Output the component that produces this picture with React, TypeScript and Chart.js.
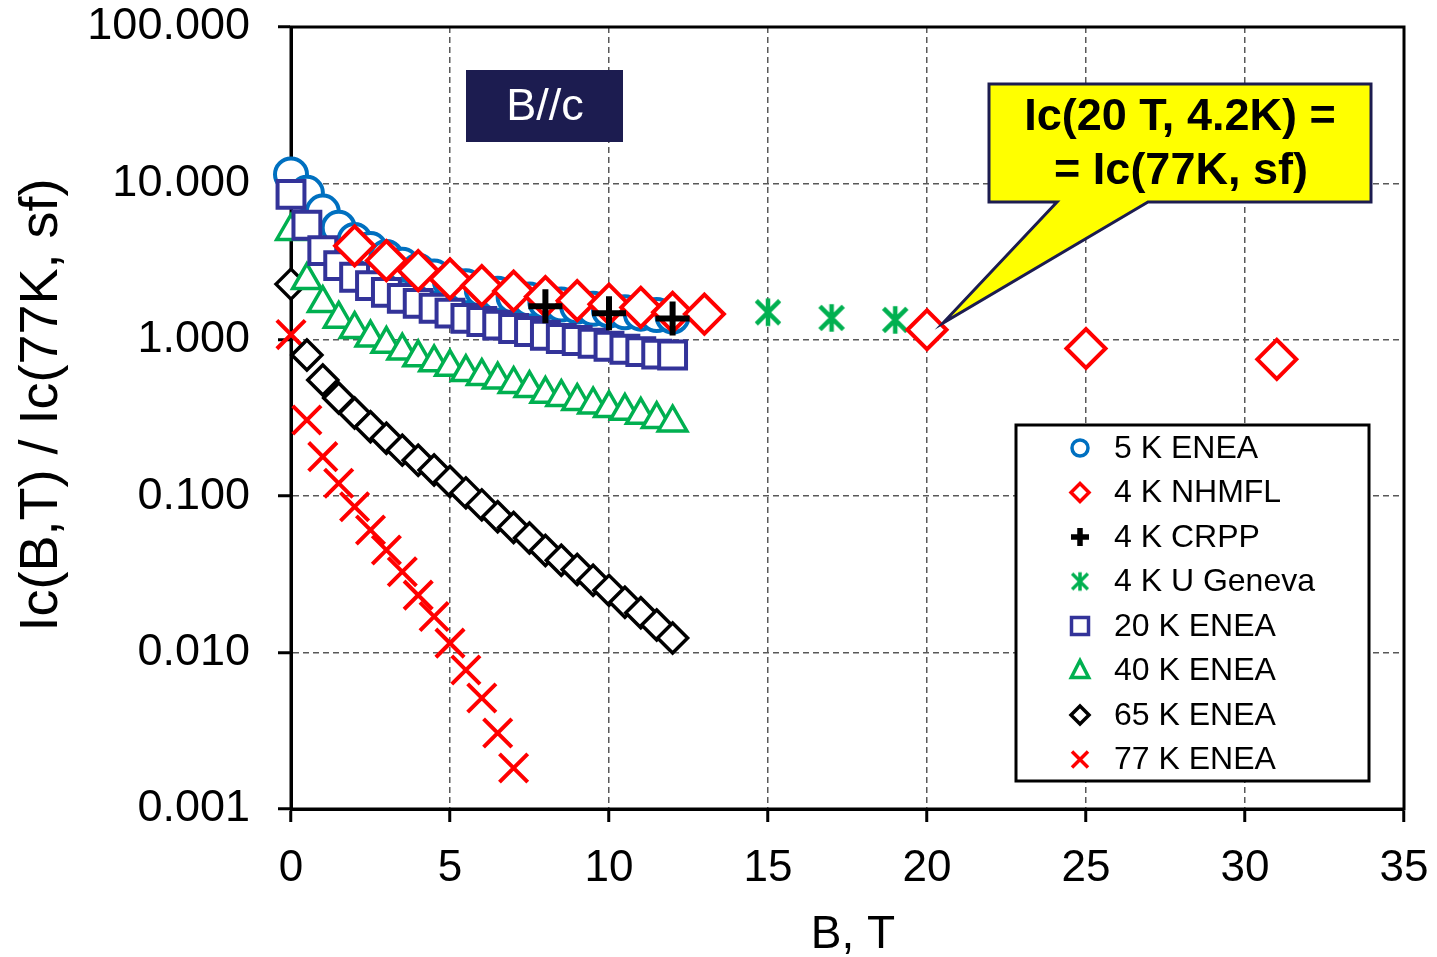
import React, { useEffect, useRef } from 'react';
import { Chart, registerables } from 'chart.js';

Chart.register(...registerables);

// ---- data ----
const eneaField = [0, 0.5, 1, 1.5, 2, 2.5, 3, 3.5, 4, 4.5, 5, 5.5, 6, 6.5, 7, 7.5, 8, 8.5, 9, 9.5, 10, 10.5, 11, 11.5, 12];
const enea5K = [11.4, 8.7, 6.6, 5.2, 4.35, 3.8, 3.38, 3.02, 2.76, 2.54, 2.36, 2.2, 2.08, 1.97, 1.88, 1.81, 1.74, 1.68, 1.63, 1.58, 1.54, 1.5, 1.47, 1.44, 1.41];
const enea20K = [8.5, 5.4, 3.72, 2.98, 2.51, 2.22, 2.01, 1.84, 1.71, 1.59, 1.48, 1.37, 1.31, 1.24, 1.18, 1.13, 1.07, 1.02, 0.99, 0.95, 0.91, 0.87, 0.84, 0.81, 0.8];
const enea40K = [4.95, 2.4, 1.71, 1.36, 1.17, 1.03, 0.94, 0.85, 0.77, 0.715, 0.67, 0.62, 0.585, 0.555, 0.52, 0.49, 0.45, 0.43, 0.405, 0.385, 0.365, 0.35, 0.33, 0.31, 0.295];
const enea65K = [2.27, 0.8, 0.553, 0.425, 0.34, 0.278, 0.235, 0.197, 0.17, 0.147, 0.124, 0.105, 0.088, 0.074, 0.063, 0.054, 0.045, 0.039, 0.034, 0.029, 0.025, 0.021, 0.018, 0.015, 0.0124];
const enea77KField = [0, 0.5, 1, 1.5, 2, 2.5, 3, 3.5, 4, 4.5, 5, 5.5, 6, 6.5, 7];
const enea77K = [1.08, 0.307, 0.179, 0.121, 0.0857, 0.0608, 0.0453, 0.0329, 0.0233, 0.017, 0.0115, 0.00774, 0.00513, 0.00306, 0.00183];
const nhmflField = [2, 3, 4, 5, 6, 7, 8, 9, 10, 11, 12, 13, 20, 25, 31];
const nhmfl4K = [3.99, 3.21, 2.77, 2.45, 2.22, 2.05, 1.89, 1.78, 1.69, 1.61, 1.5, 1.46, 1.16, 0.88, 0.75];
const crppField = [8, 10, 12];
const crpp4K = [1.64, 1.48, 1.37];
const genevaField = [15, 17, 19];
const geneva4K = [1.5, 1.38, 1.34];

const yTickValues = [0.001, 0.01, 0.1, 1, 10, 100];
const xTickStep = 5;

const legendLabels = ['5 K ENEA', '4 K NHMFL', '4 K CRPP', '4 K U Geneva', '20 K ENEA', '40 K ENEA', '65 K ENEA', '77 K ENEA'];
const xTitle = 'B, T';
const yTitle = 'Ic(B,T) / Ic(77K, sf)';
const tagText = 'B//c';
const calloutLines = ['Ic(20 T, 4.2K) =', '= Ic(77K, sf)'];

const BLUE = '#0070c0';
const RED = '#ff0000';
const GREEN = '#00b050';
const NAVY = '#333399';
const DARKNAVY = '#1c1c50';
const FONT = '"Liberation Sans", Arial, sans-serif';

const pts = (xs: number[], ys: number[]) => xs.map((x, i) => ({ x, y: ys[i] }));

function makeAsterisk(size: number, lw: number): HTMLCanvasElement {
  const c = document.createElement('canvas');
  c.width = size;
  c.height = size;
  const g = c.getContext('2d')!;
  g.strokeStyle = GREEN;
  g.lineWidth = lw;
  const m = size / 2;
  const r = size / 2 - lw / 2;
  const d = r * 0.85;
  g.beginPath();
  g.moveTo(m, m - r);
  g.lineTo(m, m + r);
  g.moveTo(m - d, m - d);
  g.lineTo(m + d, m + d);
  g.moveTo(m + d, m - d);
  g.lineTo(m - d, m + d);
  g.stroke();
  return c;
}

function drawLegendMarker(ctx: CanvasRenderingContext2D, i: number, x: number, y: number, star: HTMLCanvasElement) {
  ctx.save();
  ctx.lineWidth = 3.5;
  ctx.fillStyle = '#fff';
  ctx.beginPath();
  switch (i) {
    case 0:
      ctx.strokeStyle = BLUE;
      ctx.arc(x, y, 8, 0, Math.PI * 2);
      ctx.stroke();
      break;
    case 1:
      ctx.strokeStyle = RED;
      ctx.moveTo(x - 9, y); ctx.lineTo(x, y - 9); ctx.lineTo(x + 9, y); ctx.lineTo(x, y + 9); ctx.closePath();
      ctx.stroke();
      break;
    case 2:
      ctx.strokeStyle = '#000';
      ctx.lineWidth = 5.5;
      ctx.moveTo(x - 9, y); ctx.lineTo(x + 9, y); ctx.moveTo(x, y - 9); ctx.lineTo(x, y + 9);
      ctx.stroke();
      break;
    case 3:
      ctx.drawImage(star, x - star.width / 2, y - star.height / 2);
      break;
    case 4:
      ctx.strokeStyle = NAVY;
      ctx.rect(x - 8.5, y - 8.5, 17, 17);
      ctx.stroke();
      break;
    case 5:
      ctx.strokeStyle = GREEN;
      ctx.moveTo(x, y - 10); ctx.lineTo(x + 8.7, y + 7); ctx.lineTo(x - 8.7, y + 7); ctx.closePath();
      ctx.stroke();
      break;
    case 6:
      ctx.strokeStyle = '#000';
      ctx.moveTo(x - 9, y); ctx.lineTo(x, y - 9); ctx.lineTo(x + 9, y); ctx.lineTo(x, y + 9); ctx.closePath();
      ctx.stroke();
      break;
    case 7:
      ctx.strokeStyle = RED;
      ctx.moveTo(x - 8, y - 8); ctx.lineTo(x + 8, y + 8); ctx.moveTo(x + 8, y - 8); ctx.lineTo(x - 8, y + 8);
      ctx.stroke();
      break;
  }
  ctx.restore();
}

const zeroPad = (s: any) => {
  s.paddingTop = 0;
  s.paddingBottom = 0;
  s.paddingLeft = 0;
  s.paddingRight = 0;
};

export default function App() {
  const ref = useRef<HTMLCanvasElement | null>(null);

  useEffect(() => {
    document.body.style.margin = '0';
    const canvas = ref.current;
    if (!canvas) return;

    const bigStar = makeAsterisk(32, 4.5);
    const smallStar = makeAsterisk(22, 3.5);

    const overlay = {
      id: 'overlay',
      beforeDatasetsDraw(chart: any) {
        const { ctx, chartArea: a } = chart;
        ctx.save();
        ctx.strokeStyle = '#000';
        ctx.lineWidth = 3;
        ctx.strokeRect(a.left, a.top, a.right - a.left, a.bottom - a.top);
        ctx.restore();
      },
      afterDatasetsDraw(chart: any) {
        const ctx: CanvasRenderingContext2D = chart.ctx;
        ctx.save();
        // B//c tag
        ctx.fillStyle = DARKNAVY;
        ctx.fillRect(466, 70, 157, 72);
        ctx.fillStyle = '#fff';
        ctx.font = `45px ${FONT}`;
        ctx.textAlign = 'center';
        ctx.textBaseline = 'middle';
        ctx.fillText(tagText, 545, 108);

        // callout
        ctx.beginPath();
        ctx.moveTo(989, 84);
        ctx.lineTo(1371, 84);
        ctx.lineTo(1371, 202);
        ctx.lineTo(1148, 202);
        ctx.lineTo(943, 323);
        ctx.lineTo(1057, 202);
        ctx.lineTo(989, 202);
        ctx.closePath();
        ctx.fillStyle = '#ffff00';
        ctx.fill();
        ctx.strokeStyle = DARKNAVY;
        ctx.lineWidth = 3;
        ctx.lineJoin = 'miter';
        ctx.stroke();
        ctx.fillStyle = '#000';
        ctx.font = `bold 45px ${FONT}`;
        ctx.fillText(calloutLines[0], 1180, 118);
        ctx.fillText(calloutLines[1], 1181, 172);

        // legend
        ctx.fillStyle = '#fff';
        ctx.fillRect(1016, 425, 353, 356);
        ctx.strokeStyle = '#000';
        ctx.lineWidth = 3;
        ctx.strokeRect(1016, 425, 353, 356);
        ctx.font = `32px ${FONT}`;
        ctx.textAlign = 'left';
        legendLabels.forEach((lab, i) => {
          const y = 448 + i * 44.5;
          drawLegendMarker(ctx, i, 1080, y, smallStar);
          ctx.fillStyle = '#000';
          ctx.fillText(lab, 1114, y + 1);
        });
        ctx.restore();
      },
      afterDraw(chart: any) {
        const ctx: CanvasRenderingContext2D = chart.ctx;
        ctx.save();
        ctx.fillStyle = '#000';
        ctx.textAlign = 'center';
        ctx.textBaseline = 'middle';
        ctx.font = `46px ${FONT}`;
        ctx.fillText(xTitle, 853, 935);
        ctx.translate(42, 405);
        ctx.rotate(-Math.PI / 2);
        ctx.font = `54px ${FONT}`;
        ctx.fillText(yTitle, 0, 0);
        ctx.restore();
      },
    };

    const chart = new Chart(canvas, {
      type: 'scatter',
      data: {
        datasets: [
          {
            label: legendLabels[0], data: pts(eneaField, enea5K), order: 3,
            pointStyle: 'circle', pointRadius: 16, borderColor: BLUE, backgroundColor: '#fff', borderWidth: 4,
          },
          {
            label: legendLabels[1], data: pts(nhmflField, nhmfl4K), order: 1,
            pointStyle: 'rectRot', pointRadius: 19.5, borderColor: RED, backgroundColor: '#fff', borderWidth: 4,
          },
          {
            label: legendLabels[2], data: pts(crppField, crpp4K), order: 0,
            pointStyle: 'cross', pointRadius: 17, borderColor: '#000', backgroundColor: '#000', borderWidth: 6,
          },
          {
            label: legendLabels[3], data: pts(genevaField, geneva4K), order: 1,
            pointStyle: bigStar as any, pointRadius: 16, borderColor: GREEN, backgroundColor: GREEN,
          },
          {
            label: legendLabels[4], data: pts(eneaField, enea20K), order: 2,
            pointStyle: 'rect', pointRadius: 19, borderColor: NAVY, backgroundColor: '#fff', borderWidth: 4,
          },
          {
            label: legendLabels[5], data: pts(eneaField, enea40K), order: 4,
            pointStyle: 'triangle', pointRadius: 16.5, borderColor: GREEN, backgroundColor: '#fff', borderWidth: 3.5,
          },
          {
            label: legendLabels[6], data: pts(eneaField, enea65K), order: 5,
            pointStyle: 'rectRot', pointRadius: 15, borderColor: '#000', backgroundColor: '#fff', borderWidth: 3.5,
          },
          {
            label: legendLabels[7], data: pts(enea77KField, enea77K), order: 6,
            pointStyle: 'crossRot', pointRadius: 20, borderColor: RED, backgroundColor: RED, borderWidth: 4,
          },
        ] as any,
      },
      options: {
        animation: false,
        responsive: false,
        devicePixelRatio: 1,
        events: [],
        clip: false as any,
        layout: { padding: { top: 27, right: 33, left: 0, bottom: 0 } },
        plugins: { legend: { display: false }, tooltip: { enabled: false } },
        scales: {
          x: {
            type: 'linear',
            min: 0,
            max: 35,
            afterFit: (s: any) => { s.height = 148; zeroPad(s); },
            ticks: { stepSize: xTickStep, color: '#000', font: { family: FONT, size: 44 }, padding: 20, maxRotation: 0 },
            grid: { color: '#595959', lineWidth: 1.5, tickColor: '#000', tickWidth: 3, tickLength: 13 },
            border: { display: true, color: '#000', width: 3, dash: [6, 4] },
          },
          y: {
            type: 'logarithmic',
            min: 0.001,
            max: 100,
            afterFit: (s: any) => { s.width = 291; zeroPad(s); },
            afterBuildTicks: (s: any) => { s.ticks = yTickValues.map((value) => ({ value })); },
            ticks: {
              color: '#000', font: { family: FONT, size: 45 }, padding: 28,
              callback: (v: any) => Number(v).toFixed(3),
            },
            grid: { color: '#595959', lineWidth: 1.5, tickColor: '#000', tickWidth: 3, tickLength: 13 },
            border: { display: true, color: '#000', width: 3, dash: [6, 4] },
          },
        },
      } as any,
      plugins: [overlay],
    });

    return () => chart.destroy();
  }, []);

  return <canvas ref={ref} width={1437} height={957} style={{ display: 'block' }} />;
}
